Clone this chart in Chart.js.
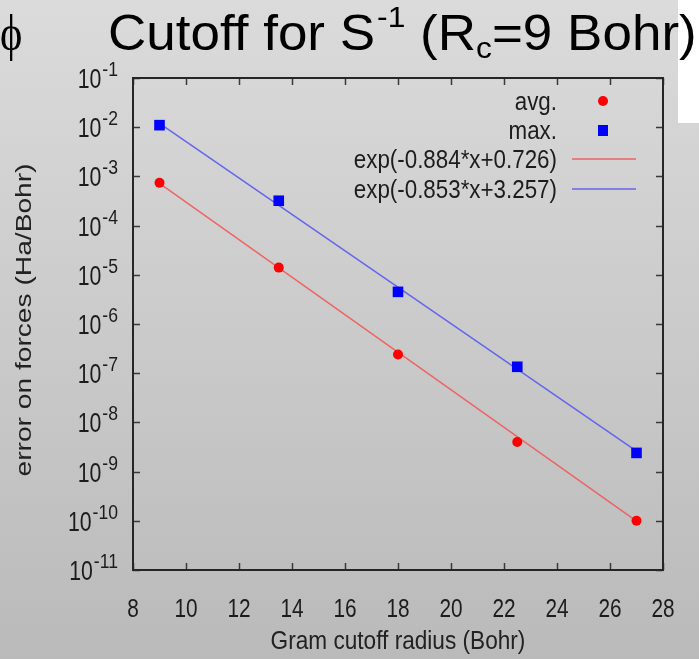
<!DOCTYPE html>
<html>
<head>
<meta charset="utf-8">
<script src="https://cdn.jsdelivr.net/npm/chart.js@4"></script>
<style>
html,body{margin:0;padding:0;background:#ccc;}
#wrap{width:699px;height:659px;position:relative;}
</style>
</head>
<body>
<div id="wrap"><canvas id="c" width="699" height="659"></canvas></div>
<script>
// ---- data ----
const cutoffRadius = [9, 13.5, 18, 22.5, 27];
const avgError = [7.4e-4, 1.4e-5, 2.4e-7, 4.0e-9, 1.0e-10];
const maxError = [1.1e-2, 3.2e-4, 4.5e-6, 1.35e-7, 2.4e-9];
const fitRadius = [9, 27];
const fitAvgError = [7.25e-4, 9.8e-11];
const fitMaxError = [1.2e-2, 2.6e-9];
const yTickExponents = [-1, -2, -3, -4, -5, -6, -7, -8, -9, -10, -11];
const xTickValues = [8, 10, 12, 14, 16, 18, 20, 22, 24, 26, 28];
const legendLabels = ['avg.', 'max.', 'exp(-0.884*x+0.726)', 'exp(-0.853*x+3.257)'];
const titleText = {phi: '\u03D5', main: 'Cutoff for S', sup: '-1', mid: ' (R', sub: 'c', end: '=9 Bohr)'};
const xTitle = 'Gram cutoff radius (Bohr)';
const yTitle = 'error on forces (Ha/Bohr)';

const RED = '#ff0000', BLUE = '#0000ff';
const RED_LINE = 'rgba(238,95,95,0.95)', BLUE_LINE = 'rgba(95,95,238,0.95)';
const FONT = '"Liberation Sans", Arial, sans-serif';

function txt(ctx, s, x, y, size, sx, align, color, family) {
  ctx.save();
  ctx.font = size + 'px ' + (family || FONT);
  ctx.fillStyle = color || '#1c1c1c';
  ctx.textAlign = align || 'left';
  ctx.textBaseline = 'alphabetic';
  ctx.translate(x, y);
  ctx.scale(sx, 1);
  ctx.fillText(s, 0, 0);
  ctx.restore();
}
function txtWidth(ctx, s, size, sx) {
  ctx.save();
  ctx.font = size + 'px ' + FONT;
  const w = ctx.measureText(s).width * sx;
  ctx.restore();
  return w;
}

const decor = {
  id: 'decor',
  beforeDraw(chart) {
    const ctx = chart.ctx, W = chart.width, H = chart.height;
    ctx.save();
    const g = ctx.createLinearGradient(0, 0, 0, H);
    g.addColorStop(0, '#dbdbdb');
    g.addColorStop(1, '#bababa');
    ctx.fillStyle = g;
    ctx.fillRect(0, 0, W, H);
    ctx.fillStyle = '#ffffff';
    ctx.fillRect(678, 0, W - 678, 123);
    ctx.restore();
  },
  beforeDatasetsDraw(chart) {
    const ctx = chart.ctx, a = chart.chartArea;
    const xs = chart.scales.x, ys = chart.scales.y;
    ctx.save();
    ctx.strokeStyle = '#3a3a3a';
    ctx.lineWidth = 1.5;
    ctx.beginPath();
    yTickExponents.forEach(e => {
      const y = Math.round(ys.getPixelForValue(Math.pow(10, e))) + 0.5;
      ctx.moveTo(a.left, y); ctx.lineTo(a.left + 7, y);
      ctx.moveTo(a.right, y); ctx.lineTo(a.right - 7, y);
    });
    xTickValues.forEach(v => {
      const x = Math.round(xs.getPixelForValue(v)) + 0.5;
      ctx.moveTo(x, a.bottom); ctx.lineTo(x, a.bottom - 7);
      ctx.moveTo(x, a.top); ctx.lineTo(x, a.top + 7);
    });
    ctx.stroke();
    ctx.strokeStyle = '#262626';
    ctx.lineWidth = 2;
    ctx.strokeRect(a.left, a.top, a.right - a.left, a.bottom - a.top);
    ctx.restore();
  },
  afterDraw(chart) {
    const ctx = chart.ctx, a = chart.chartArea;
    const xs = chart.scales.x, ys = chart.scales.y;
    // y tick labels
    yTickExponents.forEach(e => {
      const y = ys.getPixelForValue(Math.pow(10, e));
      const sup = String(e);
      const supW = txtWidth(ctx, sup, 20, 0.88);
      const right = 118;
      txt(ctx, sup, right, y - 2, 20, 0.88, 'right');
      txt(ctx, '10', right - supW - 1, y + 10, 28, 0.76, 'right');
    });
    // x tick labels
    xTickValues.forEach(v => {
      txt(ctx, String(v), xs.getPixelForValue(v), 617, 26, 0.8, 'center');
    });
    // axis titles
    txt(ctx, xTitle, (a.left + a.right) / 2, 649, 26, 0.87, 'center', '#222');
    ctx.save();
    ctx.translate(31, (a.top + a.bottom) / 2 - 4);
    ctx.rotate(-Math.PI / 2);
    txt(ctx, yTitle, 0, 0, 22, 1.28, 'center', '#222');
    ctx.restore();
    // legend
    const rows = [101, 130, 159, 189];
    legendLabels.forEach((l, i) => {
      txt(ctx, l, 557, rows[i] + 9, 26, 0.86, 'right', '#1c1c1c');
    });
    ctx.save();
    ctx.fillStyle = RED;
    ctx.beginPath(); ctx.arc(603, rows[0], 5, 0, Math.PI * 2); ctx.fill();
    ctx.fillStyle = BLUE;
    ctx.fillRect(603 - 5, rows[1] - 5, 10, 11);
    ctx.lineWidth = 1.5;
    ctx.strokeStyle = RED_LINE;
    ctx.beginPath(); ctx.moveTo(572, rows[2]); ctx.lineTo(636, rows[2]); ctx.stroke();
    ctx.strokeStyle = BLUE_LINE;
    ctx.beginPath(); ctx.moveTo(572, rows[3]); ctx.lineTo(636, rows[3]); ctx.stroke();
    ctx.restore();
    // slide title
    txt(ctx, titleText.phi, 0, 50, 50, 0.85, 'left', '#000', '"Liberation Serif", "DejaVu Serif", serif');
    let x = 108;
    const big = 50, small = 30, sx = 1.06;
    txt(ctx, titleText.main, x, 50, big, sx, 'left', '#000');
    x += txtWidth(ctx, titleText.main, big, sx) + 2;
    txt(ctx, titleText.sup, x, 27, small, sx, 'left', '#000');
    x += txtWidth(ctx, titleText.sup, small, sx);
    txt(ctx, titleText.mid, x, 50, big, sx, 'left', '#000');
    x += txtWidth(ctx, titleText.mid, big, sx);
    txt(ctx, titleText.sub, x, 58, small, sx, 'left', '#000');
    x += txtWidth(ctx, titleText.sub, small, sx);
    txt(ctx, titleText.end, x, 50, big, sx, 'left', '#000');
  }
};

new Chart(document.getElementById('c'), {
  type: 'scatter',
  data: {
    datasets: [
      {label: legendLabels[2], type: 'line', data: fitRadius.map((r, i) => ({x: r, y: fitAvgError[i]})),
       borderColor: RED_LINE, borderWidth: 1.5, pointRadius: 0, fill: false, order: 3},
      {label: legendLabels[3], type: 'line', data: fitRadius.map((r, i) => ({x: r, y: fitMaxError[i]})),
       borderColor: BLUE_LINE, borderWidth: 1.5, pointRadius: 0, fill: false, order: 3},
      {label: legendLabels[0], data: cutoffRadius.map((r, i) => ({x: r, y: avgError[i]})),
       pointStyle: 'circle', pointRadius: 5, backgroundColor: RED, borderColor: RED, borderWidth: 0, order: 1},
      {label: legendLabels[1], data: cutoffRadius.map((r, i) => ({x: r, y: maxError[i]})),
       pointStyle: 'rect', pointRadius: 7.5, backgroundColor: BLUE, borderColor: BLUE, borderWidth: 0, order: 1}
    ]
  },
  options: {
    responsive: false,
    animation: false,
    layout: {padding: {left: 133, right: 36, top: 78, bottom: 89}},
    plugins: {legend: {display: false}, tooltip: {enabled: false}, title: {display: false}},
    scales: {
      x: {type: 'linear', min: 8, max: 28,
          ticks: {display: false, stepSize: 2}, grid: {display: false, drawTicks: false}, border: {display: false}},
      y: {type: 'logarithmic', min: 1e-11, max: 1e-1,
          ticks: {display: false}, grid: {display: false, drawTicks: false}, border: {display: false}}
    }
  },
  plugins: [decor]
});
</script>
</body>
</html>
